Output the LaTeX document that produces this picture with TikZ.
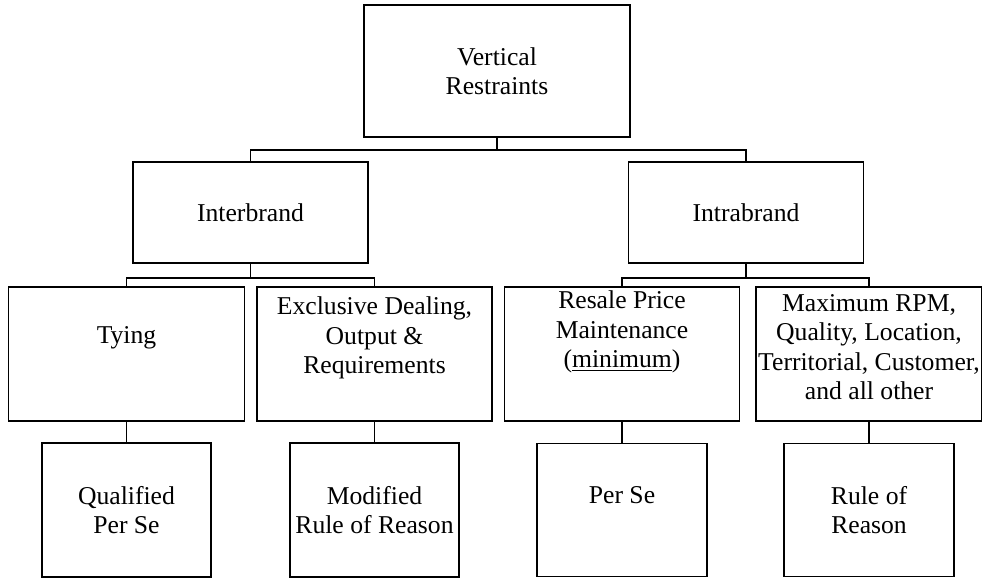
\documentclass[tikz,border=0pt]{standalone}
\usepackage{fontspec}
\setmainfont{Liberation Serif}
\usetikzlibrary{positioning}

\tikzset{
  box/.style={draw, line width=1.1pt, inner sep=0pt},
  lbl/.style={align=center, font=\fontsize{14.6}{16.8}\selectfont, inner sep=0pt},
  wire/.style={line width=1pt}
}

\begin{document}
\begin{tikzpicture}[on grid, node distance=2.83cm and 4.95cm]
\useasboundingbox (0,0) rectangle (19.64,-11.58);
% boxes
\node[box, minimum width=5.32cm, minimum height=2.64cm] (top) at (9.94,-1.42) {};
\node[box, minimum width=4.7cm, minimum height=2.02cm] (inter) [below left=2.83cm and 4.93cm of top] {};
\node[box, minimum width=4.7cm, minimum height=2.02cm] (intra) [below right=2.83cm and 4.98cm of top] {};
\node[box, minimum width=4.72cm, minimum height=2.68cm] (tying) [below left=2.83cm and 2.48cm of inter] {};
\node[box, minimum width=4.7cm, minimum height=2.68cm] (excl) [below right=2.83cm and 2.48cm of inter] {};
\node[box, minimum width=4.7cm, minimum height=2.68cm] (rpm) [below left=2.83cm and 2.48cm of intra] {};
\node[box, minimum width=4.52cm, minimum height=2.68cm] (maxrpm) [below right=2.83cm and 2.46cm of intra] {};
\node[box, minimum width=3.38cm, minimum height=2.68cm] (qps) [below=3.12cm of tying] {};
\node[box, minimum width=3.38cm, minimum height=2.68cm] (mrr) [below=3.12cm of excl] {};
\node[box, minimum width=3.4cm, minimum height=2.66cm] (perse) [below=3.12cm of rpm] {};
\node[box, minimum width=3.4cm, minimum height=2.66cm] (ror) [below=3.12cm of maxrpm] {};
% texts
\node[lbl] (top-t) at (top) {Vertical\\Restraints};
\node[lbl] (inter-t) at (inter) {Interbrand};
\node[lbl] (intra-t) at (intra) {Intrabrand};
\node[lbl, yshift=0.32cm] (tying-t) at (tying) {Tying};
\node[lbl, yshift=0.32cm] (excl-t) at (excl) {Exclusive Dealing,\\Output \&\\Requirements};
\node[lbl, yshift=0.44cm] (rpm-t) at (rpm) {Resale Price\\Maintenance\\(\underline{minimum})};
\node[lbl, yshift=0.14cm] (maxrpm-t) at (maxrpm) {Maximum RPM,\\Quality, Location,\\Territorial, Customer,\\and all other};
\node[lbl] (qps-t) at (qps) {Qualified\\Per Se};
\node[lbl] (mrr-t) at (mrr) {Modified\\Rule of Reason};
\node[lbl, yshift=0.3cm] (perse-t) at (perse) {Per Se};
\node[lbl] (ror-t) at (ror) {Rule of\\Reason};
% connectors
\draw[wire] (top.south) -- ++(0,-0.24) -| (inter.north);
\draw[wire] (top.south) -- ++(0,-0.24) -| (intra.north);
\draw[wire] (inter.south) -- ++(0,-0.28) -| (tying.north);
\draw[wire] (inter.south) -- ++(0,-0.28) -| (excl.north);
\draw[wire] (intra.south) -- ++(0,-0.28) -| (rpm.north);
\draw[wire] (intra.south) -- ++(0,-0.28) -| (maxrpm.north);
\draw[wire] (tying.south) -- (qps.north);
\draw[wire] (excl.south) -- (mrr.north);
\draw[wire] (rpm.south) -- (perse.north);
\draw[wire] (maxrpm.south) -- (ror.north);
\end{tikzpicture}
\end{document}
